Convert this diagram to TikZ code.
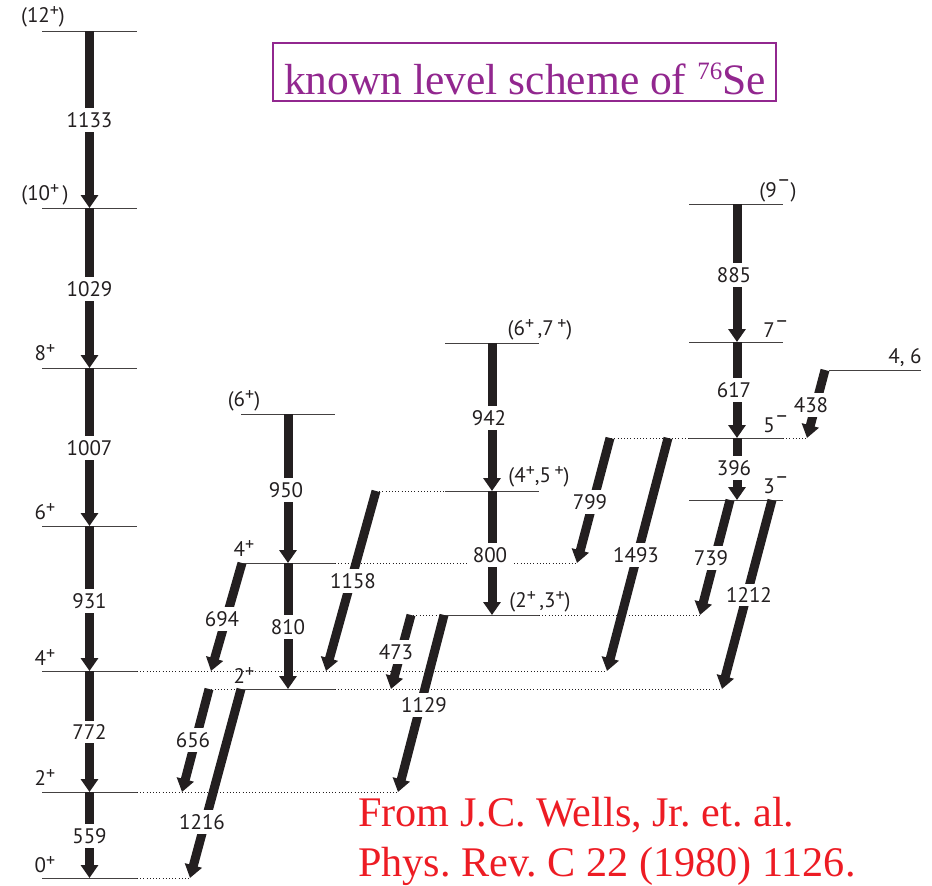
\documentclass[tikz,border=0pt]{standalone}
\usepackage{fontspec}
\setmainfont{PT Sans}
\newfontfamily\timesf{Liberation Serif}
\usetikzlibrary{arrows.meta}
\definecolor{arr}{HTML}{231F20}
\definecolor{ttl}{HTML}{92278F}
\definecolor{refc}{HTML}{ED1C24}
\newcommand\levsup[1]{\raisebox{6pt}{\fontsize{18}{18}\selectfont #1}}
\newcommand\levmin{\raisebox{10.5pt}{\fontsize{21}{21}\selectfont –}}
\begin{document}
\begin{tikzpicture}[x=1pt,y=-1pt,
  lev/.style={draw=arr!85, line width=0.8pt},
  ext/.style={draw=arr, line width=0.8pt, dash pattern=on 1pt off 2.2pt},
  gam/.style={draw=arr, line width=9pt, -{Triangle[length=13pt,width=17pt]}},
  elab/.style={fill=white, inner xsep=1pt, inner ysep=4pt, font=\fontsize{21}{21}\selectfont, text=arr},
  slab/.style={font=\fontsize{21}{21}\selectfont, inner sep=0pt, text=arr},
  reft/.style={anchor=base west, inner sep=0pt, text=refc, font=\timesf\fontsize{42.2}{42}\selectfont\frenchspacing}]
\useasboundingbox (0,0) rectangle (932,886);
% ---- level lines
\foreach \y in {31,208,368,526,671,792,878} \draw[lev] (42,\y) -- (137,\y);
\foreach \y in {414,563,689} \draw[lev] (241,\y) -- (335,\y);
\foreach \y in {343,491,615} \draw[lev] (445,\y) -- (539,\y);
\foreach \y in {204,342,438,500} \draw[lev] (689,\y) -- (783,\y);
\draw[lev] (829,370) -- (921,370);
% ---- dotted extensions
\draw[ext] (137,671) -- (607,671);
\draw[ext] (137,792) -- (398,792);
\draw[ext] (137,878) -- (190,878);
\draw[ext] (205,689) -- (241,689);
\draw[ext] (335,689) -- (722,689);
\draw[ext] (335,563) -- (577,563);
\draw[ext] (376,491) -- (445,491);
\draw[ext] (410,615) -- (445,615);
\draw[ext] (539,615) -- (700,615);
\draw[ext] (608,438) -- (689,438);
\draw[ext] (783,438) -- (807,438);
% ---- coordinates
\coordinate (a12) at (89.5,31);  \coordinate (a10) at (89.5,208);
\coordinate (a8) at (89.5,368);  \coordinate (a6) at (89.5,526);
\coordinate (a4) at (89.5,671);  \coordinate (a2) at (89.5,792);
\coordinate (a0) at (89.5,878);
\coordinate (b6) at (288,414); \coordinate (b4) at (288,563); \coordinate (b2) at (288,689);
\coordinate (c67) at (492,343); \coordinate (c45) at (492,491); \coordinate (c23) at (492,615);
\coordinate (d9) at (737,204); \coordinate (d7) at (737,342); \coordinate (d5) at (737,438); \coordinate (d3) at (737,500);
% diagonal endpoints
\coordinate (s694) at (242,563); \coordinate (e694) at (211,671);
\coordinate (s656) at (209,689); \coordinate (e656) at (182,792);
\coordinate (s1216) at (241,689); \coordinate (e1216) at (190,878);
\coordinate (s1158) at (376,491); \coordinate (e1158) at (326,671);
\coordinate (s473) at (411,615); \coordinate (e473) at (391,689);
\coordinate (s1129) at (444,615); \coordinate (e1129) at (398,792);
\coordinate (s799) at (610,438); \coordinate (e799) at (577,563);
\coordinate (s1493) at (668,438); \coordinate (e1493) at (607,671);
\coordinate (s739) at (730,500); \coordinate (e739) at (700,615);
\coordinate (s1212) at (772,500); \coordinate (e1212) at (722,689);
\coordinate (s438) at (825,370); \coordinate (e438) at (807,438);
% ---- gamma arrows
\draw[gam] (a12) -- (a10); \draw[gam] (a10) -- (a8); \draw[gam] (a8) -- (a6);
\draw[gam] (a6) -- (a4); \draw[gam] (a4) -- (a2); \draw[gam] (a2) -- (a0);
\draw[gam] (b6) -- (b4); \draw[gam] (b4) -- (b2);
\draw[gam] (c67) -- (c45); \draw[gam] (c45) -- (c23);
\draw[gam] (d9) -- (d7); \draw[gam] (d7) -- (d5); \draw[gam] (d5) -- (d3);
\foreach \n in {694,656,1216,1158,473,1129,799,1493,739,1212,438}
  \draw[gam] (s\n) -- (e\n);
% ---- energy labels
\node[elab] (g1133) at (89.5,120) {1133};
\node[elab] (g1029) at (89.5,289) {1029};
\node[elab] (g1007) at (89.5,448) {1007};
\node[elab] (g931) at (89.5,601) {931};
\node[elab] (g772) at (89.5,732) {772};
\node[elab] (g559) at (89.5,836) {559};
\node[elab] (g950) at (286,490) {950};
\node[elab] (g810) at (288,627) {810};
\node[elab] (g942) at (489,418) {942};
\node[elab, inner xsep=6pt] (g800) at (490,555) {800};
\node[elab] (g885) at (734,275) {885};
\node[elab] (g617) at (734,390) {617};
\node[elab] (g396) at (734,468) {396};
\node[elab] (g694) at (222,619) {694};
\node[elab] (g656) at (193,740) {656};
\node[elab] (g1216) at (202,822) {1216};
\node[elab] (g1158) at (353,581) {1158};
\node[elab] (g473) at (396,652) {473};
\node[elab] (g1129) at (424,705) {1129};
\node[elab] (g799) at (590,502) {799};
\node[elab] (g1493) at (636,555) {1493};
\node[elab] (g739) at (711,558) {739};
\node[elab] (g1212) at (749,595) {1212};
\node[elab] (g438) at (811,405) {438};
% ---- spin labels
\node[slab] (j12) at (43,17) {(12\levsup{+})};
\node[slab] (j10) at (45,195) {(10\levsup{+}\,)};
\node[slab] (j8) at (45,353) {8\levsup{+}};
\node[slab] (j6) at (45,512) {6\levsup{+}};
\node[slab] (j4) at (45,657) {4\levsup{+}};
\node[slab] (j2) at (45,777) {2\levsup{+}};
\node[slab] (j0) at (45,865) {0\levsup{+}};
\node[slab] (k6) at (244,401) {(6\levsup{+})};
\node[slab] (k4) at (244,548) {4\levsup{+}};
\node[slab] (k2) at (244,675) {2\levsup{+}};
\node[slab] (m67) at (540,330) {(6\levsup{+}\,,7\,\levsup{+})};
\node[slab] (m45) at (539,477) {(4\levsup{+},5\,\levsup{+})};
\node[slab] (m23) at (540,602) {(2\levsup{+}\,,3\levsup{+})};
\node[slab] (n9) at (778,191) {(9\levmin)};
\node[slab] (n7) at (776,329) {7\levmin};
\node[slab] (n46) at (905,358) {4, 6};
\node[slab] (n5) at (776,424) {5\levmin};
\node[slab] (n3) at (776,485) {3\levmin};
% ---- title
\draw[ttl, line width=1.2pt] (273,43) rectangle (776,101);
\node[anchor=base, inner sep=0pt, text=ttl, font=\timesf\fontsize{43.5}{43}\selectfont] (title) at (525,94)
  {known level scheme of \raisebox{15pt}{\fontsize{25}{25}\selectfont 76}Se};
% ---- reference
\node[reft] (ref1) at (358,826) {From J.C. Wells, Jr. et. al.};
\node[reft] (ref2) at (358,876) {Phys. Rev. C 22 (1980) 1126.};
\end{tikzpicture}
\end{document}
